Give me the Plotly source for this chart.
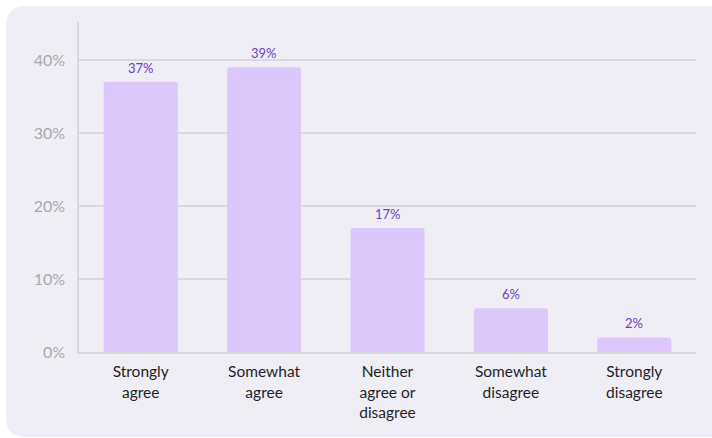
import plotly.graph_objects as go

categories = ["Strongly<br>agree", "Somewhat<br>agree", "Neither<br>agree or<br>disagree",
              "Somewhat<br>disagree", "Strongly<br>disagree"]
values = [37, 39, 17, 6, 2]
tick_vals = [0, 10, 20, 30, 40]
tick_text = ["0%", "10%", "20%", "30%", "40%"]

W, H = 712, 438
L, R, T, B = 79, 16, 22, 86
pw, ph = W - L - R, H - T - B

def px(x):
    return (x - L) / pw

def py(y):
    return (H - B - y) / ph

# rounded card background
x0, x1, y0, y1, r = 6, 722, 6, 437, 20
path = (f"M {px(x0+r)},{py(y0)} L {px(x1)},{py(y0)} L {px(x1)},{py(y1)} "
        f"L {px(x0+r)},{py(y1)} Q {px(x0)},{py(y1)} {px(x0)},{py(y1-r)} "
        f"L {px(x0)},{py(y0+r)} Q {px(x0)},{py(y0)} {px(x0+r)},{py(y0)} Z")

font = "Lato, Inter, sans-serif"

fig = go.Figure()
fig.add_trace(go.Bar(
    x=categories, y=values, width=0.6,
    marker=dict(color="#dcc7fb", cornerradius=3, line=dict(width=0)),
    hoverinfo="skip",
))

for c, v in zip(categories, values):
    fig.add_annotation(x=c, y=v, text=f"{v}%", showarrow=False, yshift=14,
                       font=dict(family=font, size=13, color="#6b3fc6"))

fig.update_layout(
    width=W, height=H,
    margin=dict(l=L, r=R, t=T, b=B),
    paper_bgcolor="white", plot_bgcolor="rgba(0,0,0,0)",
    showlegend=False,
    bargap=0.4,
    shapes=[dict(type="path", path=path, xref="paper", yref="paper",
                 fillcolor="#efeef5", line=dict(width=0), layer="below")],
    xaxis=dict(showgrid=False, showline=True, linecolor="#d9d8e0", linewidth=1.5,
               ticks="", tickfont=dict(family=font, size=15.5, color="#1e1e2a"),
               ticklabelstandoff=5),
    yaxis=dict(range=[0, 45.2], tickvals=tick_vals, ticktext=tick_text,
               showgrid=True, gridcolor="#d9d8e0", gridwidth=1.5,
               showline=True, linecolor="#d9d8e0", linewidth=1.5,
               zeroline=False, ticks="",
               tickfont=dict(family=font, size=16, color="#a9a8b0"),
               ticklabelstandoff=9),
)

fig.write_html("out.html", config={"displayModeBar": False},
               post_script="document.body.style.margin='0px';document.body.style.overflow='hidden';")
